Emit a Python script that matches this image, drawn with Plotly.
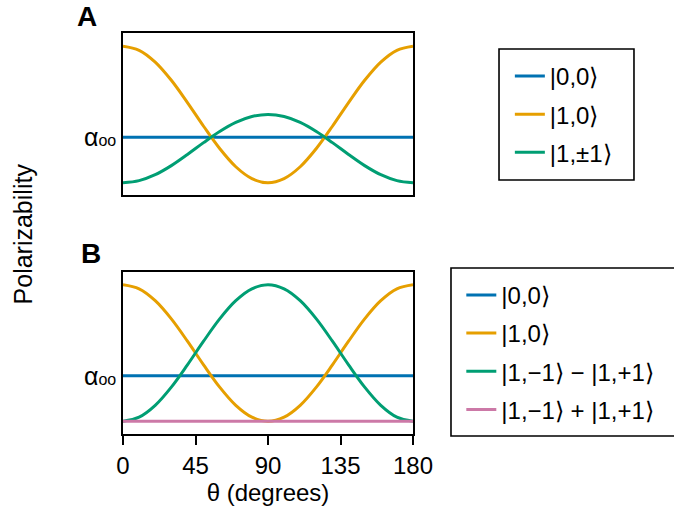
import plotly.graph_objects as go
from plotly.subplots import make_subplots

# Angle grid (degrees) and polarizabilities relative to alpha_00
theta = [0, 10, 20, 30, 40, 50, 60, 70, 80, 90, 100, 110, 120, 130, 140, 150, 160, 170, 180]

a_00 = [0.0] * 19
a_10 = [2.0, 1.91, 1.65, 1.25, 0.76, 0.24, -0.25, -0.65, -0.91, -1.0,
        -0.91, -0.65, -0.25, 0.24, 0.76, 1.25, 1.65, 1.91, 2.0]
a_1pm1 = [-1.0, -0.955, -0.825, -0.625, -0.38, -0.12, 0.125, 0.325, 0.455, 0.5,
          0.455, 0.325, 0.125, -0.12, -0.38, -0.625, -0.825, -0.955, -1.0]

b_00 = [0.0] * 19
b_10 = a_10
b_minus = [-1.0, -0.91, -0.65, -0.25, 0.24, 0.76, 1.25, 1.65, 1.91, 2.0,
           1.91, 1.65, 1.25, 0.76, 0.24, -0.25, -0.65, -0.91, -1.0]
b_plus = [-1.0] * 19

x_ticks = [0, 45, 90, 135, 180]

BLUE, ORANGE, GREEN, PINK = "#0072B2", "#E69F00", "#009E73", "#CC79A7"
FONT = "Liberation Sans, Arial, Helvetica, sans-serif"

fig = make_subplots(rows=2, cols=1, vertical_spacing=0.19)

panel_a = [("|0,0⟩", a_00, BLUE), ("|1,0⟩", a_10, ORANGE), ("|1,±1⟩", a_1pm1, GREEN)]
panel_b = [("|0,0⟩", b_00, BLUE), ("|1,0⟩", b_10, ORANGE),
           ("|1,−1⟩ − |1,+1⟩", b_minus, GREEN), ("|1,−1⟩ + |1,+1⟩", b_plus, PINK)]

for i, (name, ys, col) in enumerate(panel_a):
    fig.add_trace(go.Scatter(x=theta, y=ys, name=name, mode="lines",
                             line=dict(color=col, width=3, shape="spline"),
                             legend="legend", legendgroup=f"a{i}"), row=1, col=1)
for i, (name, ys, col) in enumerate(panel_b):
    fig.add_trace(go.Scatter(x=theta, y=ys, name=name, mode="lines",
                             line=dict(color=col, width=3, shape="spline"),
                             legend="legend2", legendgroup=f"b{i}"), row=2, col=1)

alpha_label = "α<span style='font-size:16px'>oo</span>"

common_y = dict(range=[-1.28, 2.29], tickvals=[0], ticktext=[alpha_label],
                showgrid=False, zeroline=False, showline=True, linecolor="black",
                linewidth=1.5, mirror=True, ticks="", tickfont=dict(size=25))
fig.update_yaxes(**common_y, row=1, col=1)
fig.update_yaxes(**common_y, row=2, col=1)

fig.update_xaxes(range=[0, 180], showgrid=False, zeroline=False, showline=True,
                 linecolor="black", linewidth=1.5, mirror=True,
                 showticklabels=False, ticks="", row=1, col=1)
fig.update_xaxes(range=[0, 180], tickvals=x_ticks, showgrid=False, zeroline=False,
                 showline=True, linecolor="black", linewidth=1.5, mirror=True,
                 ticks="outside", ticklen=9, tickwidth=1.5, tickcolor="black",
                 tickfont=dict(size=24),
                 title=dict(text="θ (degrees)", font=dict(size=24), standoff=4),
                 row=2, col=1)

# Legends sit inside hand-drawn frames so the padding around entries is wider
legend_style = dict(bgcolor="rgba(0,0,0,0)", borderwidth=0,
                    font=dict(size=24, family=FONT, color="black"),
                    traceorder="grouped", tracegroupgap=4,
                    xanchor="left", yanchor="top")

frame = dict(type="rect", xref="paper", yref="paper",
             line=dict(color="black", width=1.6), fillcolor="white", layer="below")

fig.update_layout(
    width=674, height=512,
    margin=dict(l=123, r=261, t=33, b=78),
    plot_bgcolor="white", paper_bgcolor="white",
    font=dict(family=FONT, size=23, color="black"),
    legend=dict(x=1.334, y=0.948, **legend_style),
    legend2=dict(x=1.1666, y=0.402, **legend_style),
    shapes=[
        dict(x0=1.2966, x1=1.762, y0=0.6334, y1=0.960, **frame),
        dict(x0=1.131, x1=1.92, y0=-0.005, y1=0.414, **frame),
    ],
    annotations=[
        dict(text="<b>A</b>", x=-0.124, y=1.04, xref="paper", yref="paper",
             showarrow=False, font=dict(size=28), xanchor="center", yanchor="middle"),
        dict(text="<b>B</b>", x=-0.109, y=0.45, xref="paper", yref="paper",
             showarrow=False, font=dict(size=28), xanchor="center", yanchor="middle"),
        dict(text="Polarizability", x=-0.345, y=0.5, xref="paper", yref="paper",
             showarrow=False, textangle=-90, font=dict(size=25),
             xanchor="center", yanchor="middle"),
    ],
)

fig.write_html("out.html")
